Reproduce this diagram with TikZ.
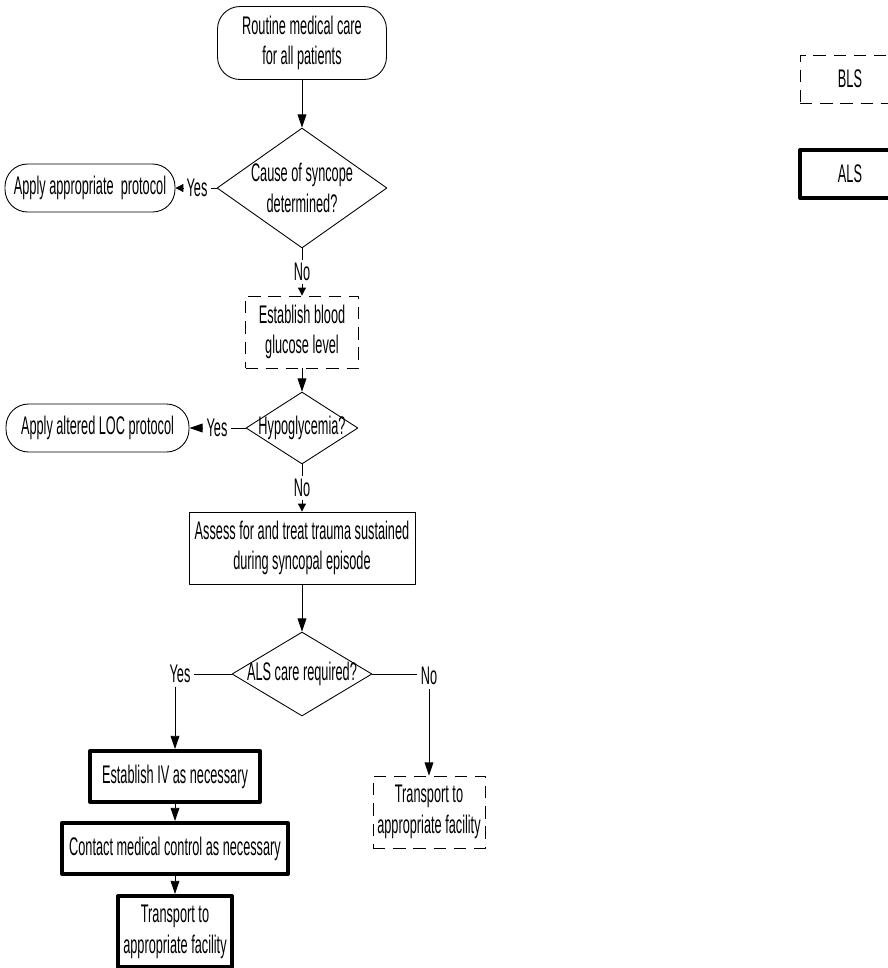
\documentclass[tikz,border=0pt]{standalone}
\usepackage{fontspec}
\setmainfont[FakeStretch=0.5]{Liberation Sans}
\usetikzlibrary{shapes.geometric,arrows.meta}
\begin{document}
\begin{tikzpicture}[x=0.02cm,y=-0.02cm,>={Triangle[length=7.5pt,width=5pt]},
  line join=round,line width=0.5pt,
  every node/.style={font=\fontsize{14.5}{17.5}\selectfont,align=center,inner sep=0pt},
  term/.style={draw,rounded corners=0.45cm,minimum height=0.96cm},
  bls/.style={draw,dash pattern=on 7pt off 4.5pt},
  als/.style={draw,line width=2.3pt},
  proc/.style={draw},
  dec/.style={draw,diamond},
  lab/.style={inner sep=1.8pt},
  sm/.style={-{Triangle[length=4.5pt,width=4.5pt]}}]
\useasboundingbox (0,0) rectangle (888,968);
% legend
\node[bls,minimum width=2cm,minimum height=0.96cm] (legb) at (850,79) {BLS};
\node[als,minimum width=2cm,minimum height=0.96cm] (lega) at (850,174) {ALS};
% main column
\node[term,minimum width=3.38cm,minimum height=1.46cm] (start) at (302,43) {Routine medical care\\for all patients};
\node[dec,minimum width=3.4cm,minimum height=2.4cm] (d1) at (302,188) {};
\node (d1t) at (302,188) {Cause of syncope\\determined?};
\node[lab] (y1) at (197,188) {Yes};
\node[term,minimum width=3.4cm] (t1) at (90,188) {Apply appropriate~ protocol};
\node[lab] (no1) at (302,272) {No};
\node[bls,minimum width=2.26cm,minimum height=1.44cm] (glc) at (302,332) {Establish blood\\glucose level};
\node[dec,minimum width=2.24cm,minimum height=1.44cm] (d2) at (302,428) {};
\node (d2t) at (302,428) {Hypoglycemia?};
\node[lab] (y2) at (217,428) {Yes};
\node[term,minimum width=3.66cm] (t2) at (97.5,428) {Apply altered LOC protocol};
\node[lab] (no2) at (302,488) {No};
\node[proc,minimum width=4.52cm,minimum height=1.44cm] (trauma) at (302,548) {Assess for and treat trauma sustained\\during syncopal episode};
\node[dec,minimum width=2.8cm,minimum height=1.68cm] (d3) at (302,674) {};
\node (d3t) at (302,674) {ALS care required?};
\node[lab] (y3) at (180,674) {Yes};
\node[lab] (no3) at (429,676) {No};
% ALS branch
\node[als,minimum width=3.4cm,minimum height=1.02cm] (iv) at (175,776.5) {Establish IV as necessary};
\node[als,minimum width=4.52cm,minimum height=1.02cm] (ctc) at (175,848.5) {Contact medical control as necessary};
\node[als,minimum width=2.28cm,minimum height=1.42cm] (tra) at (175,931.5) {Transport to\\appropriate facility};
% BLS branch
\node[bls,minimum width=2.24cm,minimum height=1.44cm] (trb) at (429,812) {Transport to\\appropriate facility};
% connectors
\draw[->] (start) -- (d1);
\draw (d1.west) -- (y1.east);
\draw[sm] (y1.west) -- (t1.east);
\draw (d1.south) -- (no1.north);
\draw[sm] (no1.south) -- (glc.north);
\draw[->] (glc) -- (d2);
\draw (d2.west) -- (y2.east);
\draw[->] (y2.west) -- (t2.east);
\draw (d2.south) -- (no2.north);
\draw[sm] (no2.south) -- (trauma.north);
\draw[->] (trauma) -- (d3);
\draw (d3.west) -- (y3.east |- d3.west);
\draw[->] (y3.south -| iv.north) -- (iv.north);
\draw[->] (iv) -- (ctc);
\draw[->] (ctc) -- (tra);
\draw (d3.east) -- (no3.west |- d3.east);
\draw[->] (no3.south) -- (trb.north);
\end{tikzpicture}
\end{document}
